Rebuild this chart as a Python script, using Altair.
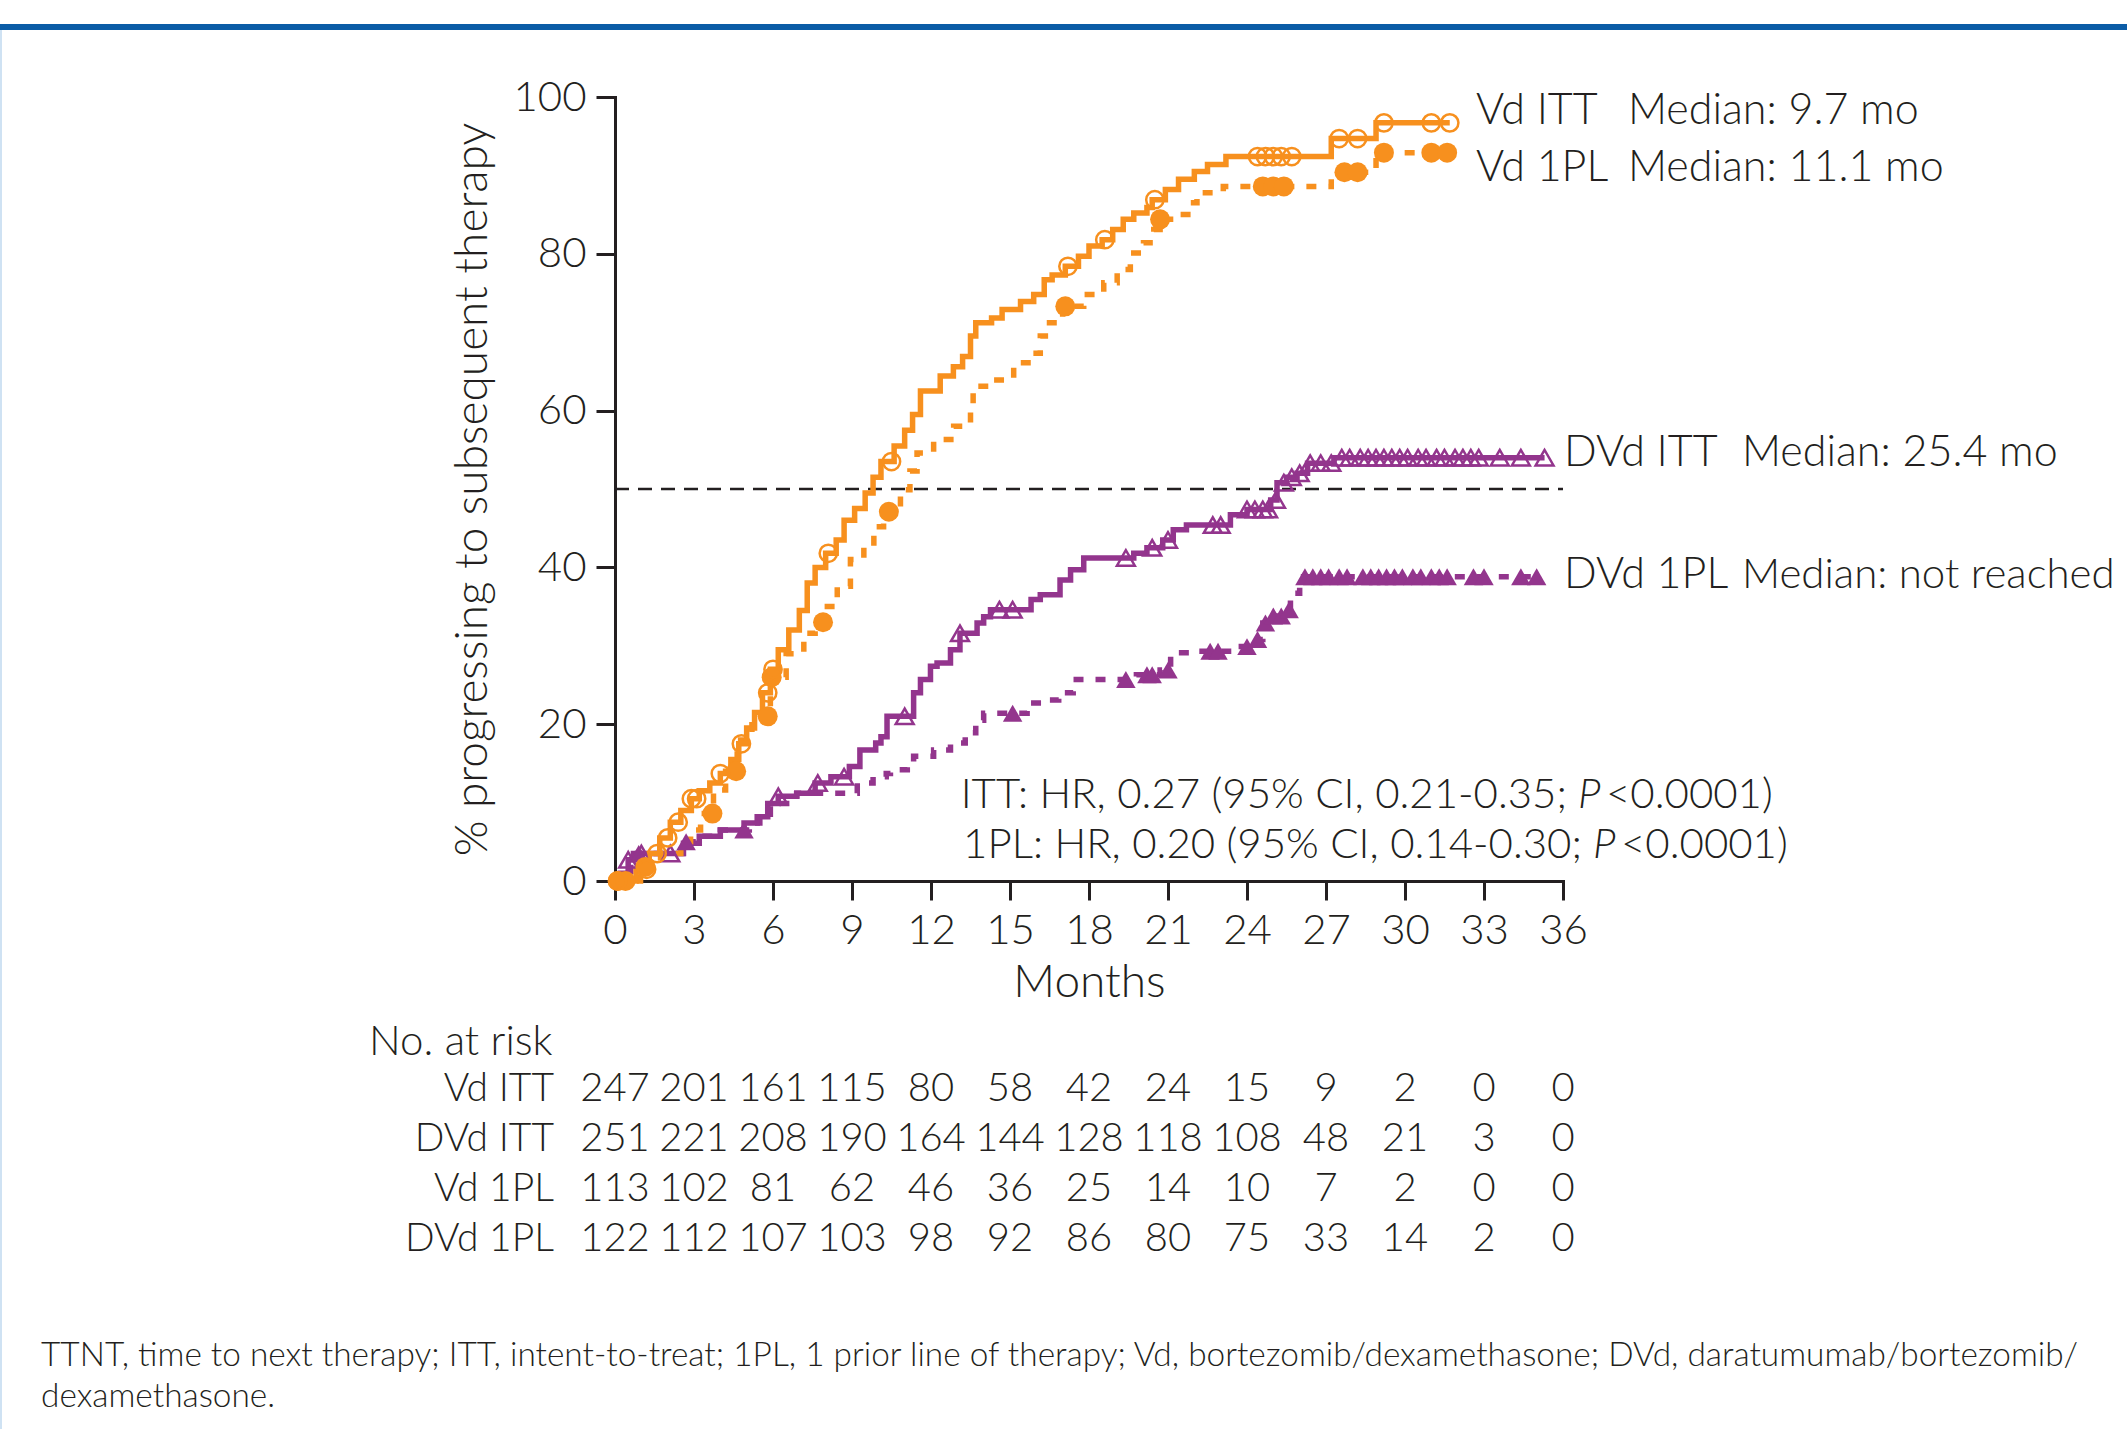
import altair as alt
import pandas as pd

# ---------------- data ----------------
months = [0, 3, 6, 9, 12, 15, 18, 21, 24, 27, 30, 33, 36]
yticks = [0, 20, 40, 60, 80, 100]

vd_itt_t = [0, 0.8, 1.3, 1.7, 2.1, 2.5, 2.9, 3.2, 3.6, 4.0, 4.4, 4.7, 5.0, 5.3, 5.6, 5.9, 6.2, 6.6, 7.0, 7.3,
            7.6, 8.0, 8.4, 8.7, 9.1, 9.5, 9.8, 10.1, 10.6, 11.0, 11.3, 11.6, 12.35, 12.85, 13.2, 13.5, 13.7, 14.3, 14.7, 15.4,
            15.9, 16.3, 16.6, 17.1, 17.6, 18.0, 18.5, 18.9, 19.3, 19.7, 20.2, 20.4, 20.9, 21.4, 22.0, 22.5, 23.2, 27.2, 28.9]
vd_itt_p = [0, 1.5, 3.5, 5.5, 7.5, 9.0, 10.5, 11.5, 12.5, 13.7, 15.5, 17.5, 19.5, 21.5, 24.0, 27.0, 29.5, 32.0, 34.5, 38.0,
            40.0, 41.8, 43.5, 46.0, 47.5, 49.5, 51.5, 53.5, 55.5, 57.5, 59.5, 62.5, 64.4, 65.6, 66.9, 69.5, 71.2, 71.8, 72.9, 73.9,
            74.8, 76.7, 77.3, 78.4, 79.7, 81.0, 81.8, 83.1, 84.4, 85.2, 85.9, 86.9, 88.2, 89.5, 90.5, 91.4, 92.4, 94.7, 96.7]
vd_itt_end = 31.7
vd_itt_cens = [0.1, 1.2, 1.6, 2.0, 2.4, 2.9, 3.1, 4.0, 4.8, 5.8, 6.0, 8.1, 10.5, 17.2, 18.6, 20.5,
               24.4, 24.7, 25.0, 25.3, 25.7, 27.5, 28.2, 29.2, 31.0, 31.7]

vd_1pl_t = [0, 0.97, 1.73, 2.5, 2.87, 3.25, 3.74, 4.2, 4.64, 5.2, 5.9, 6.5, 7.17, 7.6, 7.93, 8.44, 8.94, 9.45, 9.83, 10.2,
            10.84, 11.2, 11.47, 12.1, 12.86, 13.5, 13.6, 14.5, 15.14, 15.8, 16.15, 16.5, 17.0, 17.8, 18.56, 19.07, 19.57, 20.07,
            20.46, 20.7, 21.34, 21.97, 22.1, 23.1, 27.2, 28.9]
vd_1pl_p = [0, 1.8, 3.5, 5.0, 6.5, 8.6, 11.6, 14.0, 18.0, 21.0, 26.0, 29.0, 31.6, 33.0, 35.0, 37.6, 41.0, 42.7, 45.2, 47.1,
            49.9, 52.3, 54.6, 56.3, 58.0, 60.1, 63.1, 63.9, 66.1, 67.3, 69.5, 71.2, 73.3, 74.8, 76.3, 78.0, 80.1, 81.4,
            83.1, 84.4, 85.0, 86.5, 87.8, 88.6, 90.4, 92.9]
vd_1pl_end = 31.6
vd_1pl_cens = [0.1, 0.4, 1.15, 3.7, 4.6, 5.8, 5.95, 7.9, 10.4, 17.1, 20.7, 24.6, 25.0, 25.4, 27.7, 28.2, 29.2, 31.0, 31.6]

dvd_itt_t = [0, 0.2, 0.5, 0.7, 2.6, 3.2, 4.0, 4.9, 5.4, 5.8, 6.2, 6.9, 7.6, 8.2, 8.9, 9.3, 9.9, 10.1, 10.33, 11.34,
             11.6, 11.98, 12.23, 12.74, 13.1, 13.75, 14.0, 14.26, 15.8, 16.15, 16.9, 17.3, 17.8, 19.7, 20.2, 20.8, 21.2,
             21.7, 23.37, 24.0, 24.9, 25.14, 25.5, 25.9, 26.3, 27.3]
dvd_itt_p = [0, 1.0, 2.7, 3.5, 4.8, 5.7, 6.5, 7.4, 8.2, 9.9, 10.8, 11.2, 12.5, 13.3, 14.6, 16.7, 17.6, 18.4, 21.0, 24.0,
             25.7, 27.4, 27.8, 29.5, 31.6, 32.9, 33.7, 34.6, 35.9, 36.5, 38.4, 39.7, 41.2, 41.8, 42.5, 43.5, 44.8,
             45.4, 46.7, 47.4, 48.6, 50.8, 51.5, 52.0, 53.3, 54.0]
dvd_itt_end = 35.3
dvd_itt_cens = [0.5, 1.0, 2.1, 6.2, 7.7, 8.7, 11.0, 13.1, 14.6, 15.1, 19.4, 20.4, 21.0, 22.7, 23.0, 24.0, 24.3,
                24.6, 24.8, 25.1, 25.4, 25.7, 26.0, 26.4, 26.8, 27.2, 27.6, 27.9, 28.3, 28.6, 28.9, 29.2, 29.5,
                29.8, 30.1, 30.5, 30.8, 31.2, 31.5, 31.9, 32.2, 32.5, 32.8, 33.6, 34.4, 35.3]

dvd_1pl_t = [0, 0.3, 0.6, 0.85, 2.7, 3.3, 4.0, 5.1, 5.5, 5.9, 6.9, 9.2, 9.8, 10.3, 10.46, 11.1, 11.34, 12.1, 12.74,
             13.3, 13.7, 14.0, 15.65, 16.3, 16.85, 17.4, 19.8, 20.7, 21.1, 21.85, 23.5, 24.4, 24.6, 25.0, 25.4, 25.65, 26.0]
dvd_1pl_p = [0, 1.2, 2.5, 3.5, 5.0, 5.7, 6.5, 7.4, 8.5, 9.9, 11.2, 12.5, 13.3, 13.7, 14.2, 15.0, 15.9, 16.7, 17.6,
             18.9, 20.5, 21.4, 22.7, 23.1, 24.0, 25.7, 26.3, 26.9, 29.1, 29.3, 29.9, 30.8, 32.9, 33.8, 34.6, 36.7, 38.8]
dvd_1pl_end = 35.2
dvd_1pl_cens = [0.9, 2.7, 4.9, 15.1, 19.4, 20.2, 20.4, 21.0, 22.6, 22.9, 24.0, 24.4, 24.7, 25.0, 25.3, 25.6,
                26.2, 26.5, 26.8, 27.1, 27.5, 27.8, 28.4, 28.7, 29.0, 29.3, 29.6, 29.9, 30.3, 30.6, 31.0, 31.3,
                31.6, 32.6, 33.0, 34.4, 35.0]

risk_rows = ["Vd ITT", "DVd ITT", "Vd 1PL", "DVd 1PL"]
risk_vd_itt = [247, 201, 161, 115, 80, 58, 42, 24, 15, 9, 2, 0, 0]
risk_dvd_itt = [251, 221, 208, 190, 164, 144, 128, 118, 108, 48, 21, 3, 0]
risk_vd_1pl = [113, 102, 81, 62, 46, 36, 25, 14, 10, 7, 2, 0, 0]
risk_dvd_1pl = [122, 112, 107, 103, 98, 92, 86, 80, 75, 33, 14, 2, 0]

footnote = ["TTNT, time to next therapy; ITT, intent-to-treat; 1PL, 1 prior line of therapy; Vd, bortezomib/dexamethasone; DVd, daratumumab/bortezomib/",
            "dexamethasone."]

# ---------------- style ----------------
W, H = 948, 784
PAD_L, PAD_T = 615, 97
FULL_W, FULL_H = 2127, 1429
FONT = "Lato"
FW = 300
INK = "#231F20"
ORANGE = "#F7901E"
PURPLE = "#93358D"
FS = 40

x_enc = alt.X("t:Q", scale=alt.Scale(domain=[0, 36], nice=False, zero=False),
              axis=alt.Axis(values=months, title="Months", titleX=474, titleY=101,
                            titleBaseline="middle", titleAlign="center", labelFlush=False,
                            labelOverlap=False, labelFontSize=42))
y_enc = alt.Y("pct:Q", scale=alt.Scale(domain=[0, 100], nice=False),
              axis=alt.Axis(values=yticks, title="% progressing to subsequent therapy",
                            titleX=-143, titleY=392, titleBaseline="middle", titleAlign="center",
                            titleAngle=270, labelFontSize=42))


def step_at(ts, ps, t):
    v = ps[0]
    for a, b in zip(ts, ps):
        if a <= t:
            v = b
    return v


def curve(ts, ps, end, color, dash):
    df = pd.DataFrame({"t": ts + [end], "pct": ps + [ps[-1]]})
    kw = dict(interpolate="step-after", color=color, strokeWidth=5.5, strokeCap="butt")
    if dash:
        kw["strokeDash"] = dash
    return alt.Chart(df).mark_line(**kw).encode(x=x_enc, y=y_enc)


def marks(ts, ps, cens, color, shape, filled, size):
    df = pd.DataFrame({"t": cens, "pct": [step_at(ts, ps, c) for c in cens]})
    return alt.Chart(df).mark_point(shape=shape, filled=filled, color=color, size=size,
                                    strokeWidth=2.5, opacity=1).encode(x=x_enc, y=y_enc)


def txt(label, x, y, align="left", size=FS, style="normal", weight=FW, color=INK):
    return alt.Chart(pd.DataFrame({"label": [label]})).mark_text(
        align=align, baseline="middle", font=FONT, fontSize=size, fontStyle=style,
        fontWeight=weight, color=color).encode(x=alt.value(x), y=alt.value(y), text="label:N")


layers = []
# decorations: blue header bar and light box edge
layers.append(alt.Chart(pd.DataFrame({"a": [0]})).mark_rule(color="#0B5CA6", strokeWidth=6).encode(
    x=alt.value(-PAD_L), x2=alt.value(FULL_W - PAD_L), y=alt.value(27 - PAD_T)))
layers.append(alt.Chart(pd.DataFrame({"a": [0]})).mark_rule(color="#CFE2F3", strokeWidth=2).encode(
    x=alt.value(1 - PAD_L), y=alt.value(30 - PAD_T), y2=alt.value(FULL_H - PAD_T)))

# 50% reference line
layers.append(alt.Chart(pd.DataFrame({"t": [0], "t2": [36], "pct": [50]})).mark_rule(
    color=INK, strokeWidth=2.5, strokeDash=[14, 9]).encode(x=x_enc, x2="t2:Q", y=y_enc))

layers.append(curve(dvd_1pl_t, dvd_1pl_p, dvd_1pl_end, PURPLE, [10, 12]))
layers.append(curve(dvd_itt_t, dvd_itt_p, dvd_itt_end, PURPLE, None))
layers.append(curve(vd_1pl_t, vd_1pl_p, vd_1pl_end, ORANGE, [10, 12]))
layers.append(curve(vd_itt_t, vd_itt_p, vd_itt_end, ORANGE, None))

layers.append(marks(dvd_1pl_t, dvd_1pl_p, dvd_1pl_cens, PURPLE, "triangle-up", True, 380))
layers.append(marks(dvd_itt_t, dvd_itt_p, dvd_itt_cens, PURPLE, "triangle-up", False, 320))
layers.append(marks(vd_1pl_t, vd_1pl_p, vd_1pl_cens, ORANGE, "circle", True, 400))
layers.append(marks(vd_itt_t, vd_itt_p, vd_itt_cens, ORANGE, "circle", False, 300))

# series labels
LS = 43
layers += [
    txt("Vd ITT", 861, 14, size=LS), txt("Median: 9.7 mo", 1013, 14, size=LS),
    txt("Vd 1PL", 861, 71, size=LS), txt("Median: 11.1 mo", 1013, 71, size=LS),
    txt("DVd ITT", 949, 356, size=LS), txt("Median: 25.4 mo", 1127, 356, size=LS),
    txt("DVd 1PL", 949, 478, size=LS), txt("Median: not reached", 1127, 478, size=42),
]

# hazard ratio text (italic P)
HS = 42
hr = [("ITT: HR, 0.27 (95% CI, 0.21-0.35;", 952, 963, 991, "<0.0001)", 698),
      ("1PL: HR, 0.20 (95% CI, 0.14-0.30;", 967, 978, 1006, "<0.0001)", 748)]
for a, xa, xp, xb, b, yy in hr:
    layers += [txt(a, xa, yy, align="right", size=HS), txt("P", xp, yy, style="italic", size=HS),
               txt(b, xb, yy, size=HS)]

# number at risk table
layers.append(txt("No. at risk", -246, 945, size=42))
risk_vals = [risk_vd_itt, risk_dvd_itt, risk_vd_1pl, risk_dvd_1pl]
row_y = [992, 1042, 1092, 1142]
for name, vals, yy in zip(risk_rows, risk_vals, row_y):
    layers.append(txt(name, -61, yy, align="right", size=39))
    df = pd.DataFrame({"t": months, "n": [str(v) for v in vals]})
    layers.append(alt.Chart(df).mark_text(align="center", baseline="middle", font=FONT, fontSize=FS,
                                          fontWeight=FW, color=INK).encode(
        x=x_enc, y=alt.value(yy), text="n:N"))

# footnote
layers.append(txt(footnote[0], -574, 1259, size=33.4))
layers.append(txt(footnote[1], -574, 1300, size=33.4))

chart = alt.layer(*layers).properties(
    width=W, height=H,
    padding={"left": PAD_L, "top": PAD_T, "right": FULL_W - PAD_L - W, "bottom": FULL_H - PAD_T - H},
    autosize=alt.AutoSizeParams(type="none"),
    background="white",
).configure_view(stroke=None).configure_axis(
    grid=False, domainColor=INK, domainWidth=3, tickColor=INK, tickWidth=3, tickSize=19,
    labelFont=FONT, labelFontSize=FS, labelFontWeight=FW, labelColor=INK, labelPadding=10,
    titleFont=FONT, titleFontSize=46, titleFontWeight=FW, titleColor=INK,
    domainCap="square",
)

chart.save("out.html", embed_options={"renderer": "svg", "actions": False})
